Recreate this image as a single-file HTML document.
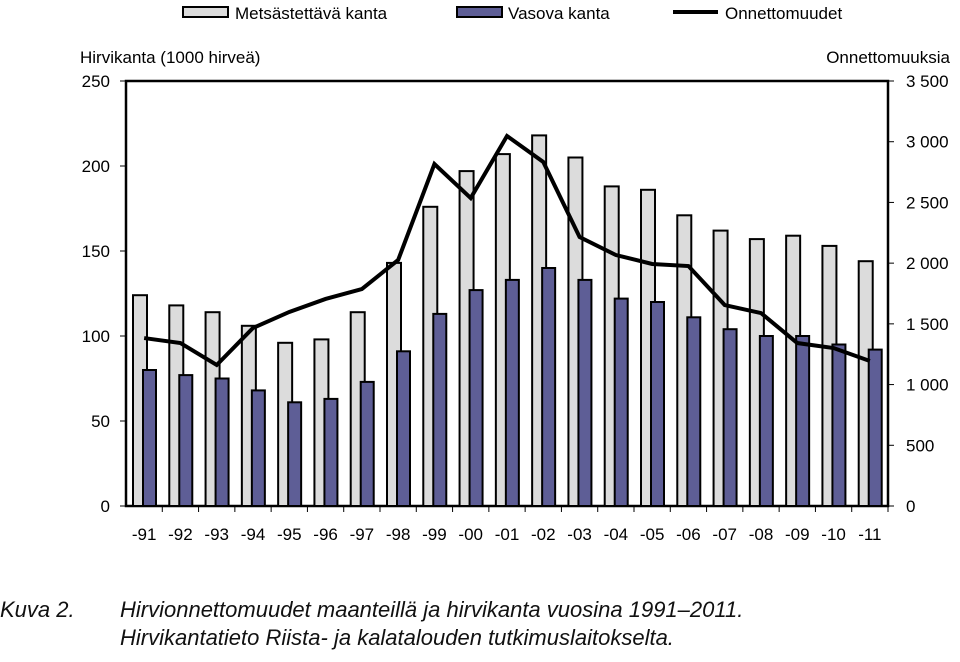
<!DOCTYPE html>
<html><head><meta charset="utf-8"><style>
body{margin:0;background:#fff;width:960px;height:662px;overflow:hidden;font-family:"Liberation Sans",sans-serif}
svg text{font-family:"Liberation Sans",sans-serif}
.cap{position:absolute;left:0;top:596px;font-family:"Liberation Sans",sans-serif;font-style:italic;font-size:22px;color:#111;line-height:28px}
</style></head><body>
<svg id="chart" width="960" height="590" style="position:absolute;left:0;top:0">
<g>
<rect x="183" y="7" width="45" height="10" fill="#dcdcdc" stroke="#000" stroke-width="2"/>
<text x="235" y="19" font-size="17">Metsästettävä kanta</text>
<rect x="457" y="7" width="45" height="10" fill="#5e5e96" stroke="#000" stroke-width="2"/>
<text x="508" y="19" font-size="17">Vasova kanta</text>
<line x1="673" y1="12" x2="718" y2="12" stroke="#000" stroke-width="4"/>
<text x="725" y="19" font-size="17">Onnettomuudet</text>
</g>
<text x="80" y="63" font-size="17">Hirvikanta (1000 hirveä)</text>
<text x="950" y="63" font-size="17" text-anchor="end">Onnettomuuksia</text>
<g id="plot"></g>
</svg>
<div class="cap"><span style="display:inline-block;width:120px">Kuva 2.</span>Hirvionnettomuudet maanteillä ja hirvikanta vuosina 1991–2011.<br><span style="display:inline-block;width:120px"></span>Hirvikantatieto Riista- ja kalatalouden tutkimuslaitokselta.</div>
<script>
const categories=["-91","-92","-93","-94","-95","-96","-97","-98","-99","-00","-01","-02","-03","-04","-05","-06","-07","-08","-09","-10","-11"];
const metsastettava=[124,118,114,106,96,98,114,143,176,197,207,218,205,188,186,171,162,157,159,153,144];
const vasova=[80,77,75,68,61,63,73,91,113,127,133,140,133,122,120,111,104,100,100,95,92];
const onnettomuudet=[1383,1342,1161,1466,1598,1705,1787,2026,2816,2536,3047,2833,2215,2067,1993,1976,1655,1589,1342,1301,1194];
const leftTicks=[0,50,100,150,200,250];
const rightTicks=[0,500,1000,1500,2000,2500,3000,3500];
const rightLabels=["0","500","1 000","1 500","2 000","2 500","3 000","3 500"];
const NS="http://www.w3.org/2000/svg";
const g=document.getElementById('plot');
const X0=126,X1=888,Y0=506,Y1=81;
const bw=(X1-X0)/categories.length;
const yL=v=>Y0-(v/250)*(Y0-Y1);
const yR=v=>Y0-(v/3500)*(Y0-Y1);
const xC=i=>X0+bw*i+bw/2;
function mk(t,a){const e=document.createElementNS(NS,t);for(const k in a)e.setAttribute(k,a[k]);g.appendChild(e);return e;}
const frame=mk('rect',{x:X0,y:Y1,width:X1-X0,height:Y0-Y1,fill:'none',stroke:'#000','stroke-width':2.5});


leftTicks.forEach(v=>{
 const t=mk('line',{x1:X0-6,x2:X0,y1:yL(v),y2:yL(v),stroke:'#000','stroke-width':1});
 
 
 const l=mk('text',{x:X0-16,y:yL(v)+6,'font-size':17,'text-anchor':'end'});l.textContent=v;
 
 
});
rightTicks.forEach((v,i)=>{
 const t=mk('line',{x1:X1,x2:X1+6,y1:yR(v),y2:yR(v),stroke:'#000','stroke-width':1});
 
 
 const l=mk('text',{x:X1+18,y:yR(v)+6,'font-size':17});l.textContent=rightLabels[i];
 
 
});
categories.forEach((c,i)=>{
 const x=X0+bw*i;
 const t=mk('line',{x1:x+bw,x2:x+bw,y1:Y0,y2:Y0+6,stroke:'#000','stroke-width':1});
 
 
 const b1=mk('rect',{x:x+7,y:yL(metsastettava[i]),width:14,height:Y0-yL(metsastettava[i]),fill:'#dcdcdc',stroke:'#000','stroke-width':2});
 
 
 const b2=mk('rect',{x:x+17,y:yL(vasova[i]),width:13,height:Y0-yL(vasova[i]),fill:'#5e5e96',stroke:'#000','stroke-width':2});
 
 
 const l=mk('text',{x:xC(i),y:Y0+34,'font-size':17,'text-anchor':'middle'});l.textContent=c;
 
 
});
const line=mk('polyline',{points:onnettomuudet.map((v,i)=>xC(i)+','+yR(v)).join(' '),fill:'none',stroke:'#000','stroke-width':4,'stroke-linejoin':'miter'});


</script>
</body></html>
